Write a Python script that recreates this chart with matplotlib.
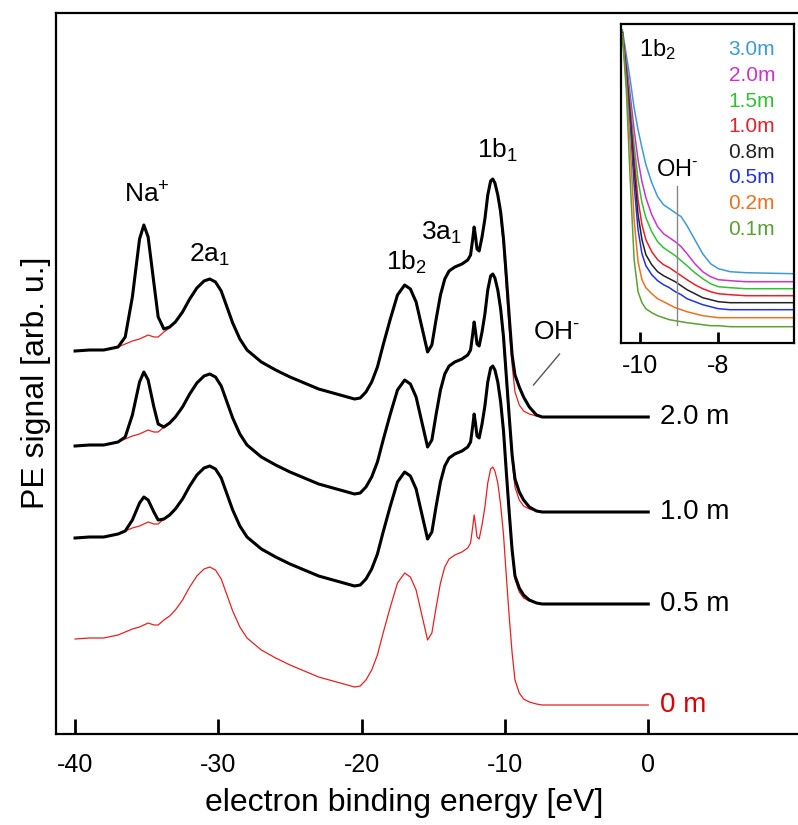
import matplotlib
matplotlib.use("Agg")
import matplotlib.pyplot as plt

plt.rcParams['font.family'] = ['Liberation Sans', 'DejaVu Sans']
plt.rcParams['mathtext.fontset'] = 'custom'
plt.rcParams['mathtext.rm'] = 'Liberation Sans'
plt.rcParams['mathtext.it'] = 'Liberation Sans:italic'
plt.rcParams['axes.unicode_minus'] = False

# electron binding energy grid (eV), common to all main spectra
energia = [-40.0, -39.0, -38.0, -37.0, -36.5, -36.0, -35.5, -35.2, -34.9, -34.5,
           -34.2, -33.8, -33.4, -33.0, -32.5, -32.0, -31.5, -31.0, -30.6, -30.2,
           -29.8, -29.4, -29.0, -28.5, -28.0, -27.0, -26.0, -25.0, -24.0, -23.0,
           -22.0, -21.0, -20.5, -20.1, -19.7, -19.3, -18.9, -18.5, -18.0, -17.5,
           -17.0, -16.6, -16.2, -15.8, -15.4, -15.1, -14.8, -14.5, -14.2, -13.9,
           -13.5, -13.0, -12.6, -12.4, -12.25, -12.15, -12.05, -11.95, -11.8, -11.6,
           -11.4, -11.2, -11.0, -10.85, -10.7, -10.5, -10.3, -10.1, -9.9, -9.7,
           -9.5, -9.3, -9.0, -8.7, -8.3, -7.8, -7.4, -4.0, 0.0]

# pure water (0 m), signal above its own baseline
agua = [66, 67, 67, 70, 73, 76, 78, 80, 82, 80,
        80, 85, 89, 95, 105, 118, 129, 136, 138, 135,
        126, 110, 94, 78, 67, 55, 47, 40, 34, 28,
        24, 20, 18, 19, 25, 35, 50, 72, 98, 122,
        132, 128, 115, 90, 65, 72, 98, 122, 138, 146,
        150, 153, 157, 162, 178, 190, 180, 168, 166, 180,
        198, 222, 236, 238, 234, 222, 200, 170, 128, 88,
        52, 25, 12, 6, 3, 1, 0, 0, 0]

naoh_05 = [66, 67, 67, 70, 73, 84, 101, 107, 104, 92,
           84, 85, 89, 95, 105, 118, 129, 136, 138, 135,
           126, 110, 94, 78, 67, 55, 47, 40, 34, 28,
           24, 20, 18, 19, 25, 35, 50, 72, 98, 122,
           132, 128, 115, 90, 65, 72, 98, 122, 138, 146,
           150, 153, 157, 162, 178, 190, 180, 168, 166, 180,
           198, 222, 236, 238, 234, 222, 202, 173, 131, 91,
           54, 28, 16, 9, 4, 1, 0, 0, 0]

naoh_10 = [66, 67, 67, 70, 75, 97, 130, 140, 132, 105,
           88, 85, 89, 95, 105, 118, 129, 136, 138, 135,
           126, 110, 94, 78, 67, 55, 47, 40, 34, 28,
           24, 20, 18, 19, 25, 35, 50, 72, 98, 122,
           132, 128, 115, 90, 65, 72, 98, 122, 138, 146,
           150, 153, 157, 162, 178, 190, 180, 168, 166, 180,
           198, 222, 236, 238, 234, 222, 203, 175, 135, 95,
           57, 33, 20, 12, 5, 1, 0, 0, 0]

naoh_20 = [66, 67, 67, 70, 80, 120, 178, 192, 180, 134,
           100, 88, 90, 95, 105, 118, 129, 136, 138, 135,
           126, 110, 94, 78, 67, 55, 47, 40, 34, 28,
           24, 20, 18, 19, 25, 35, 50, 72, 98, 122,
           132, 128, 115, 90, 65, 72, 98, 122, 138, 146,
           150, 153, 157, 162, 178, 190, 180, 168, 166, 180,
           198, 222, 236, 238, 234, 222, 205, 178, 140, 100,
           62, 42, 30, 20, 10, 2, 0, 0, 0]

rotulos = ["0 m", "0.5 m", "1.0 m", "2.0 m"]
deslocamentos = [29, 130, 222, 317]
espectros = [None, naoh_05, naoh_10, naoh_20]

# inset: 1b2 / OH- region
energia_in = [-10.45, -10.35, -10.25, -10.15, -10.05, -9.95, -9.85, -9.7, -9.55, -9.4,
              -9.25, -9.1, -8.95, -8.8, -8.6, -8.4, -8.2, -8.0, -7.7, -7.3, -6.1]
conc_in = ["3.0m", "2.0m", "1.5m", "1.0m", "0.8m", "0.5m", "0.2m", "0.1m"]
cores_in = ["#3d9ad6", "#cc33cc", "#33c033", "#e8202a", "#222222", "#2233dd", "#f07020", "#5aa032"]
sinal_in = [
    [313, 288, 263, 235, 213, 195, 178, 160, 146, 138, 134, 130, 126, 117, 103, 89, 79, 74, 71, 70, 69],
    [311, 281, 248, 213, 183, 161, 145, 128, 116, 109, 105, 101, 96, 89, 79, 71, 66, 63, 62, 61, 61],
    [311, 275, 238, 198, 163, 140, 125, 111, 101, 95, 91, 87, 82, 77, 70, 64, 59, 56, 55, 54, 54],
    [310, 273, 231, 185, 143, 118, 103, 91, 83, 78, 75, 71, 67, 63, 58, 54, 51, 49, 48, 47, 47],
    [310, 271, 225, 173, 128, 103, 88, 78, 71, 67, 64, 61, 57, 53, 49, 45, 43, 41, 40, 40, 40],
    [309, 267, 218, 158, 113, 89, 77, 68, 62, 58, 55, 51, 48, 44, 41, 38, 36, 34, 33, 33, 33],
    [309, 261, 198, 123, 81, 63, 55, 49, 44, 41, 38, 35, 33, 31, 29, 27, 26, 25, 25, 25, 25],
    [308, 253, 163, 83, 51, 40, 34, 30, 27, 25, 23, 22, 21, 20, 19, 18, 17, 17, 16, 16, 16],
]

fig = plt.figure(figsize=(7.98, 8.25), dpi=100)
ax = fig.add_axes([56 / 798, 91 / 825, 1 - 56 / 798, 721 / 825])

for rot, off, esp in zip(rotulos, deslocamentos, espectros):
    ax.plot(energia, [v + off for v in agua], color="#e82020", lw=0.9, zorder=2)
    if esp is not None:
        ax.plot(energia, [v + off for v in esp], color="black", lw=2.2, zorder=3)
    ax.text(0.85, off, rot, fontsize=20, va="center", ha="left",
            color="#dd0000" if esp is None else "black")

ax.set_xlim(-41.33, 10.45)
ax.set_ylim(0, 721)
ax.set_xticks([-40, -30, -20, -10, 0])
ax.set_xticklabels(["-40", "-30", "-20", "-10", "0"])
ax.set_yticks([])
ax.tick_params(axis="x", direction="in", length=11, width=2, labelsize=18, pad=14)
ax.spines["right"].set_visible(False)
for s in ["left", "top", "bottom"]:
    ax.spines[s].set_linewidth(1.6)

# rotulos dos picos
ax.text(-34.97, 539, r"Na$^{\mathregular{+}}$", fontsize=19, ha="center", va="center")
ax.text(-30.6, 479, "2a$_1$", fontsize=19, ha="center", va="center")
ax.text(-16.9, 472, "1b$_2$", fontsize=19, ha="center", va="center")
ax.text(-14.45, 501, "3a$_1$", fontsize=19, ha="center", va="center")
ax.text(-10.55, 584, "1b$_1$", fontsize=19, ha="center", va="center")
ax.text(-6.4, 402, r"OH$^{\text{-}}$", fontsize=19, ha="center", va="center")
ax.plot([-6.19, -8.01], [380, 349], color="#555555", lw=1)

fig.text(404 / 798, 1 - 803 / 825, "electron binding energy [eV]", fontsize=23,
         ha="center", va="center")
fig.text(36 / 798, 1 - 383 / 825, "PE signal [arb. u.]", fontsize=23,
         ha="center", va="center", rotation=90)

# inset
ax_in = fig.add_axes([621.3 / 798, 1 - 342.7 / 825, 172.7 / 798, 319.2 / 825])
for c, cor, s in zip(conc_in, cores_in, sinal_in):
    ax_in.plot(energia_in, s, color=cor, lw=1.1)
ax_in.set_xlim(-10.477, -6.07)
ax_in.set_ylim(0, 319.2)
ax_in.set_xticks([-10, -8])
ax_in.set_xticklabels(["-10", "-8"])
ax_in.set_yticks([])
ax_in.tick_params(axis="x", direction="in", length=8, width=2, labelsize=18, pad=8)
for s in ax_in.spines.values():
    s.set_linewidth(1.6)

for i, (c, cor) in enumerate(zip(conc_in, cores_in)):
    ax_in.text(0.89, 0.917 - i * 0.0802, c, color=cor, fontsize=15,
               ha="right", va="center", transform=ax_in.transAxes)
ax_in.text(0.207, 0.917, "1b$_2$", fontsize=17, ha="center", va="center",
           transform=ax_in.transAxes)
ax_in.text(0.325, 0.54, r"OH$^{\text{-}}$", fontsize=17, ha="center", va="center",
           transform=ax_in.transAxes)
ax_in.plot([-9.05, -9.05], [157, 18], color="#888888", lw=1)

fig.savefig("out.png", dpi=100)
